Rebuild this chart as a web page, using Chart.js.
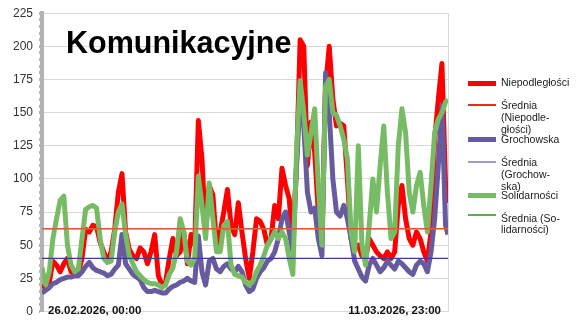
<!DOCTYPE html>
<html><head><meta charset="utf-8">
<script src="https://cdn.jsdelivr.net/npm/chart.js@4.4.1/dist/chart.umd.min.js"></script>
<style>
html,body{margin:0;padding:0;background:#fff;}
#wrap{position:relative;width:580px;height:325px;overflow:hidden;font-family:"Liberation Sans",Arial,sans-serif;}
#c{position:absolute;left:0;top:0;}
#title{position:absolute;left:66px;top:27px;font-size:30.5px;font-weight:bold;line-height:30px;color:#000;white-space:nowrap;}
.lg{position:absolute;left:501px;font-size:10.5px;line-height:11.8px;color:#1a1a1a;white-space:pre;}
.sw{position:absolute;left:468px;width:28px;}
</style></head>
<body><div id="wrap"><canvas id="c" width="580" height="325"></canvas>
<div id="title">Komunikacyjne</div>
</div>
<script>
// ---- data ----
const xTickLabels = ['26.02.2026, 00:00', '11.03.2026, 23:00'];
const lastHour = 335;
// sampled every 3 hours (plus the final hour)
const hours = Array.from({length: 113}, (_, i) => Math.min(i * 3, lastHour));

const redVals = [
 20,18,22,38,35,30,36,40,30,28,
 30,40,62,60,65,64,52,45,38,45,
 62,90,104,60,47,42,40,48,45,36,
 45,58,27,20,22,40,55,42,45,60,
 36,58,50,144,115,60,95,88,50,60,
 75,92,65,58,82,60,40,25,45,70,
 68,62,50,55,80,70,108,95,85,50,
 110,205,200,110,143,120,75,55,170,200,
 160,140,142,140,100,55,48,50,42,40,
 55,50,45,42,40,45,40,45,80,95,
 70,55,50,60,55,45,38,60,130,160,
 187,95,82];

const purpleVals = [
 14,16,18,21,22,24,25,26,26,27,
 27,30,34,37,33,31,30,29,27,28,
 32,35,58,36,32,28,26,24,18,15,
 15,16,15,14,14,17,19,20,22,23,
 25,23,22,57,30,20,38,40,32,30,
 34,36,32,30,34,30,20,15,17,25,
 30,33,38,40,45,55,70,75,60,45,
 110,160,140,90,75,78,55,42,180,150,
 100,75,72,80,70,55,38,32,26,23,
 35,40,35,30,33,38,35,32,38,36,
 33,30,28,35,38,36,30,45,70,110,
 155,65,58];

const greenVals = [
 33,20,30,55,70,84,87,50,35,30,
 32,55,77,79,80,78,55,40,37,38,
 60,75,81,58,42,36,30,27,24,22,
 21,21,20,18,20,28,33,45,70,60,
 38,35,40,102,80,55,97,70,45,45,
 65,68,35,28,27,26,22,20,23,30,
 35,42,50,55,60,55,60,55,40,28,
 120,174,150,118,135,153,95,50,170,175,
 150,148,140,130,115,60,45,125,50,35,
 65,100,75,110,140,90,55,60,125,153,
 135,90,75,95,105,80,60,95,135,145,
 150,158,160];

const meanVals = [62.5, 40, 62.5]; // Niepodległości, Grochowska, Solidarności
const seriesNames = ['Niepodległości', 'Grochowska', 'Solidarności'];
const meanNames = ['Średnia (Niepodległości)', 'Średnia (Grochowska)', 'Średnia (Solidarności)'];
const meanLegendText = ['Średnia\n(Niepodle-\ngłości)', 'Średnia\n(Grochow-\nska)', 'Średnia (So-\nlidarności)'];

// ---- styles ----
const colors = ['#ff0000', '#675a9f', '#77bc65'];
const meanColors = ['#e2582f', '#413b8c', '#77bc65'];
const meanLegendColors = ['#ee2a1c', '#a19cc8', '#5fae4c'];

const pts = vals => hours.map((h, i) => ({x: h, y: vals[i]}));
const flat = v => [{x: 0, y: v}, {x: lastHour, y: v}];

const datasets = [
  {label: seriesNames[0], data: pts(redVals), borderColor: colors[0], borderWidth: 5, order: 6},
  {label: meanNames[0], data: flat(meanVals[0]), borderColor: meanColors[0], borderWidth: 1.5, order: 1},
  {label: seriesNames[1], data: pts(purpleVals), borderColor: colors[1], borderWidth: 5, order: 5},
  {label: meanNames[1], data: flat(meanVals[1]), borderColor: meanColors[1], borderWidth: 1.2, order: 2},
  {label: seriesNames[2], data: pts(greenVals), borderColor: colors[2], borderWidth: 5, order: 4},
  {label: meanNames[2], data: flat(meanVals[2]), borderColor: meanColors[2], borderWidth: 1.2, order: 3}
];

const FONT = '"Liberation Sans", Arial, sans-serif';

const framePlugin = {
  id: 'frame',
  beforeDatasetsDraw(chart) {
    const {ctx, chartArea: a} = chart;
    ctx.save();
    ctx.strokeStyle = '#d9d9d9';
    ctx.lineWidth = 1;
    ctx.beginPath();
    ctx.moveTo(Math.round(a.right) + 0.5, a.top);
    ctx.lineTo(Math.round(a.right) + 0.5, a.bottom);
    ctx.stroke();
    ctx.restore();
  }
};

const xLabelPlugin = {
  id: 'xlabels',
  afterDraw(chart) {
    const ctx = chart.ctx, xs = chart.scales.x;
    ctx.save();
    ctx.font = 'bold 11.5px ' + FONT;
    ctx.fillStyle = '#111';
    ctx.textBaseline = 'middle';
    ctx.textAlign = 'left';
    ctx.fillText(xTickLabels[0], xs.getPixelForValue(hours[0]) + 6, 310.5);
    ctx.textAlign = 'right';
    ctx.fillText(xTickLabels[1], xs.getPixelForValue(lastHour) - 7, 310.5);
    ctx.restore();
  }
};

new Chart(document.getElementById('c'), {
  type: 'line',
  data: {datasets},
  plugins: [framePlugin, xLabelPlugin],
  options: {
    responsive: false,
    animation: false,
    devicePixelRatio: 1,
    layout: {padding: {left: 0, top: 13, right: 132, bottom: 13.5}},
    elements: {
      point: {radius: 0, hoverRadius: 0},
      line: {tension: 0, borderJoinStyle: 'round', fill: false}
    },
    plugins: {legend: {display: false}, tooltip: {enabled: false}, title: {display: false}},
    scales: {
      x: {type: 'linear', min: 0, max: lastHour, display: false},
      y: {
        min: 0, max: 225,
        afterFit(s) { s.width = 42; },
        border: {display: true, color: '#b3b3b3', width: 4},
        grid: {
          color: c => (c.tick && c.tick.value % 25 === 0) ? '#d9d9d9' : 'rgba(0,0,0,0)',
          lineWidth: 1, drawTicks: true, tickLength: 3, tickWidth: 3, tickColor: '#b3b3b3'
        },
        ticks: {
          stepSize: 5, autoSkip: false, padding: 6, color: '#333',
          font: {family: FONT, size: 12},
          callback: v => (v % 25 === 0 ? String(v) : '')
        }
      }
    }
  }
});

// ---- legend (HTML) ----
const wrap = document.getElementById('wrap');
const legendLayout = [
  {textTop: 76.5, lineTop: 81, h: 5},
  {textTop: 100, lineTop: 104, h: 2},
  {textTop: 134, lineTop: 137, h: 5},
  {textTop: 157, lineTop: 161, h: 2},
  {textTop: 190, lineTop: 193, h: 5},
  {textTop: 212.5, lineTop: 214, h: 2}
];
const legendItems = [];
for (let i = 0; i < 3; i++) {
  legendItems.push({text: seriesNames[i], color: colors[i]});
  legendItems.push({text: meanLegendText[i], color: meanLegendColors[i]});
}
legendItems.forEach((it, i) => {
  const L = legendLayout[i];
  const sw = document.createElement('div');
  sw.className = 'sw';
  sw.style.top = L.lineTop + 'px';
  sw.style.height = L.h + 'px';
  sw.style.backgroundColor = it.color;
  wrap.appendChild(sw);
  const t = document.createElement('div');
  t.className = 'lg';
  t.style.top = L.textTop + 'px';
  t.textContent = it.text;
  wrap.appendChild(t);
});
</script>
</body></html>
